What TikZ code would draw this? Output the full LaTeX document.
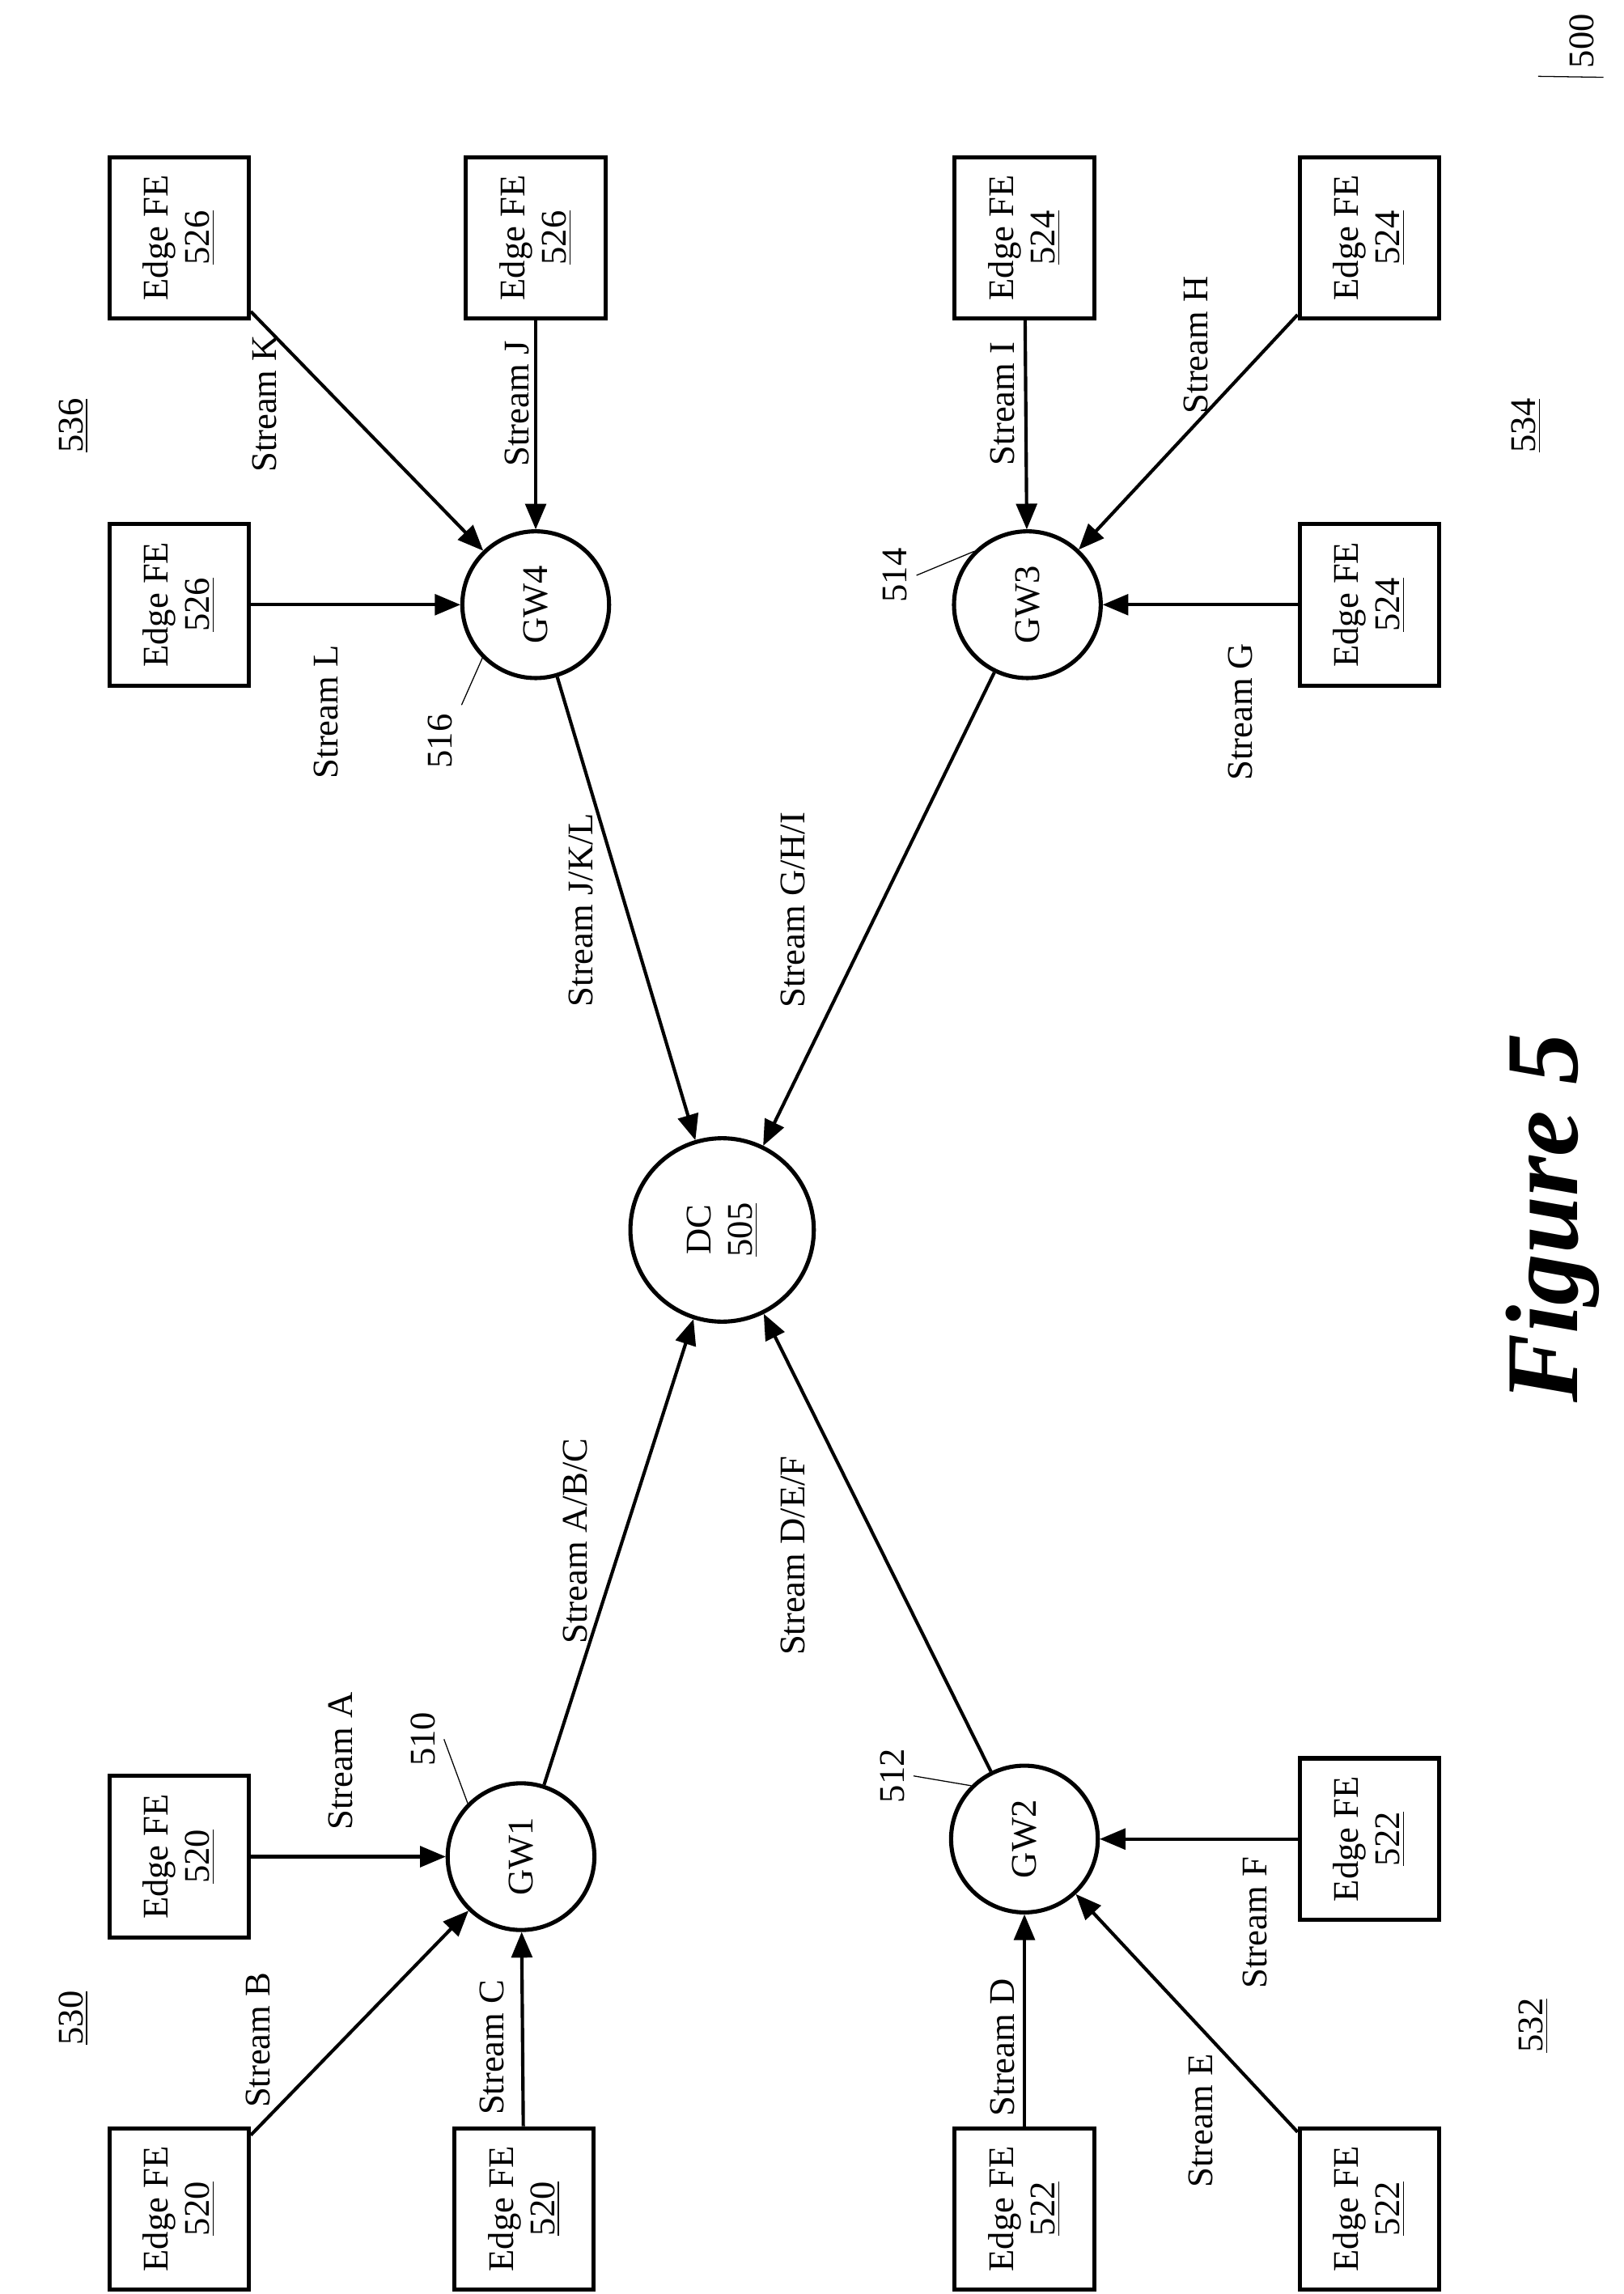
\documentclass[tikz,border=0pt]{standalone}
\usepackage{fontspec}
\setmainfont{Liberation Serif}
\usetikzlibrary{shapes,arrows}
\tikzstyle{box} = [rectangle, line width=1.6pt, minimum width=2.2cm, minimum height=1.9cm, text centered, draw=black, rotate=90, align=center, font=\fontsize{14}{16}\selectfont]
\tikzstyle{gw} = [circle, line width=1.6pt, minimum size=2cm, draw=black, rotate=90, font=\fontsize{14}{16}\selectfont]
\tikzstyle{lbl} = [rotate=90, font=\fontsize{14}{16}\selectfont]
\tikzstyle{arrow} = [line width=1.3pt,->,>=triangle 45]

\begin{document}
\begin{tikzpicture}[x=0.02cm, y=-0.02cm]
\useasboundingbox (0,0) rectangle (1106,1563);
% nodes
\node (dc) [gw, minimum size=2.5cm, align=center] at (492,838) {DC\\\underline{505}};
\node (gw1) [gw] at (355,1265) {GW1};
\node (gw2) [gw] at (698,1253) {GW2};
\node (gw3) [gw] at (700,412) {GW3};
\node (gw4) [gw] at (365,412) {GW4};

\node (fea) [box] at (122,1265) {Edge FE\\\underline{520}};
\node (feb) [box] at (122,1505) {Edge FE\\\underline{520}};
\node (fec) [box] at (357,1505) {Edge FE\\\underline{520}};
\node (fed) [box] at (698,1505) {Edge FE\\\underline{522}};
\node (fee) [box] at (933,1505) {Edge FE\\\underline{522}};
\node (fef) [box] at (933,1253) {Edge FE\\\underline{522}};
\node (feg) [box] at (933,412) {Edge FE\\\underline{524}};
\node (feh) [box] at (933,162) {Edge FE\\\underline{524}};
\node (fei) [box] at (698,162) {Edge FE\\\underline{524}};
\node (fej) [box] at (365,162) {Edge FE\\\underline{526}};
\node (fek) [box] at (122,162) {Edge FE\\\underline{526}};
\node (fel) [box] at (122,412) {Edge FE\\\underline{526}};

%edges
\draw [arrow] (fea) -- (gw1);
\draw [arrow] (feb) -- (gw1);
\draw [arrow] (fec) -- (gw1);
\draw [arrow] (fed) -- (gw2);
\draw [arrow] (fee) -- (gw2);
\draw [arrow] (fef) -- (gw2);
\draw [arrow] (feg) -- (gw3);
\draw [arrow] (feh) -- (gw3);
\draw [arrow] (fei) -- (gw3);
\draw [arrow] (fej) -- (gw4);
\draw [arrow] (fek) -- (gw4);
\draw [arrow] (fel) -- (gw4);
\draw [arrow] (gw1) -- (dc);
\draw [arrow] (gw2) -- (dc);
\draw [arrow] (gw3) -- (dc);
\draw [arrow] (gw4) -- (dc);

% stream labels
\node [lbl] at (232,1200) {Stream A};
\node [lbl] at (176,1390) {Stream B};
\node [lbl] at (335,1395) {Stream C};
\node [lbl] at (683,1395) {Stream D};
\node [lbl] at (818,1445) {Stream E};
\node [lbl] at (855,1310) {Stream F};
\node [lbl] at (845,485) {Stream G};
\node [lbl] at (815,235) {Stream H};
\node [lbl] at (683,275) {Stream I};
\node [lbl] at (352,275) {Stream J};
\node [lbl] at (180,275) {Stream K};
\node [lbl] at (222,485) {Stream L};
\node [lbl] at (392,1050) {Stream A/B/C};
\node [lbl] at (540,1060) {Stream D/E/F};
\node [lbl] at (396,620) {Stream J/K/L};
\node [lbl] at (540,620) {Stream G/H/I};

% reference numbers
\node (r510) [lbl] at (288,1185) {510};
\node (r512) [lbl] at (608,1210) {512};
\node (r514) [lbl] at (610,392) {514};
\node (r516) [lbl] at (300,505) {516};
\draw [thin] (r510.south) -- (gw1.45);
\draw [thin] (r512.south) -- (gw2.45);
\draw [thin] (r514.south) -- (gw3.45);
\draw [thin] (r516.south east) -- (gw4.135);
\node [lbl] at (50,1375) {\underline{530}};
\node [lbl] at (1045,1380) {\underline{532}};
\node [lbl] at (1040,290) {\underline{534}};
\node [lbl] at (50,290) {\underline{536}};
\node (r500) [lbl] at (1078,28) {500};
\coordinate (p500) at (1048,52);
\draw [thin] (r500.south west) -- (p500);
\node [rotate=90, font=\fontsize{40}{44}\selectfont\bfseries\itshape] at (1058,830) {Figure 5};
\end{tikzpicture}
\end{document}
